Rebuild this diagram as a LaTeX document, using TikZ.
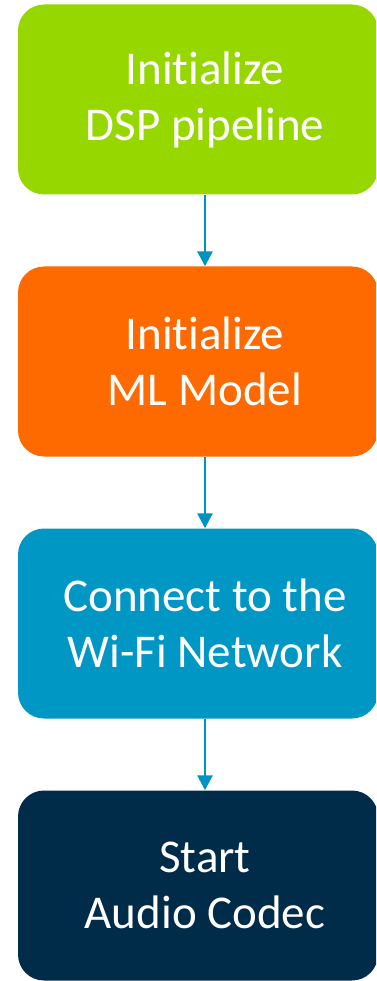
\documentclass[tikz,border=0pt]{standalone}
\usepackage{fontspec}
\setmainfont{Carlito}[Ligatures=NoCommon]
\usetikzlibrary{arrows.meta}
\definecolor{stepgreen}{HTML}{97D700}
\definecolor{steporange}{HTML}{FF6A00}
\definecolor{stepblue}{HTML}{0097C4}
\definecolor{stepnavy}{HTML}{002B49}
\definecolor{arrowblue}{HTML}{0093C2}
\tikzset{
  stepbox/.style={rectangle, rounded corners=26pt, draw=none,
    minimum width=360pt, minimum height=190pt, inner sep=0pt},
  steplabel/.style={text=white, align=center, inner sep=0pt,
    font=\fontsize{47pt}{56pt}\selectfont},
  flowarrow/.style={draw=arrowblue, line width=2.8pt,
    -{Triangle[width=15pt,length=15pt]}},
}
\begin{document}
\begin{tikzpicture}[x=1pt,y=-1pt]
  \useasboundingbox (0,0) rectangle (376,981);
  \clip (0,0) rectangle (376,981);
  % boxes
  \node[stepbox, fill=stepgreen]  (b1) at (198,99.5) {};
  \node[stepbox, fill=steporange] (b2) at (198,361.5) {};
  \node[stepbox, fill=stepblue]   (b3) at (198,623.5) {};
  \node[stepbox, fill=stepnavy]   (b4) at (198,885.5) {};
  % labels
  \node[steplabel] (t1) at (205,99.5)  {Initialize\\DSP pipeline};
  \node[steplabel] (t2) at (205,361.5) {Initialize\\ML Model};
  \node[steplabel] (t3) at (205,623.5) {Connect to the\\Wi-Fi Network};
  \node[steplabel] (t4) at (205,885.5) {Start\\Audio Codec};
  % connectors
  \coordinate (ax) at (205,0);
  \draw[flowarrow] (b1.south -| ax) -- (b2.north -| ax);
  \draw[flowarrow] (b2.south -| ax) -- (b3.north -| ax);
  \draw[flowarrow] (b3.south -| ax) -- (b4.north -| ax);
\end{tikzpicture}
\end{document}
